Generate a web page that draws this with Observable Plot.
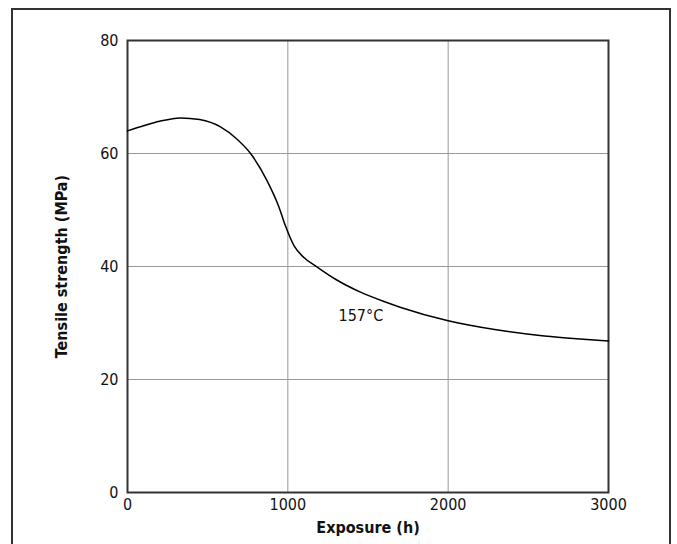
<!DOCTYPE html>
<html>
<head>
<meta charset="utf-8">
<script src="https://cdn.jsdelivr.net/npm/d3@7"></script>
<script src="https://cdn.jsdelivr.net/npm/@observablehq/plot@0.6"></script>
<style>
  html, body { margin: 0; padding: 0; background: #fff; }
  #wrap { position: relative; width: 677px; height: 544px; overflow: hidden; }
  #border { position: absolute; left: 11px; top: 8px; width: 660px; height: 560px;
            border: 2px solid #333; box-sizing: border-box; pointer-events: none; }
</style>
</head>
<body>
<div id="wrap"><div id="border"></div></div>
<script>
const exposureHours = [0, 100, 200, 330, 450, 580, 680, 770, 870, 945, 985, 1040, 1100, 1183, 1300, 1450, 1600, 1700, 2000, 2300, 2600, 2800, 3000];
const tensileMPa   = [64.0, 64.9, 65.7, 66.3, 66.0, 64.7, 62.6, 59.9, 55.2, 50.5, 47.2, 43.6, 41.6, 39.9, 37.7, 35.5, 33.8, 32.8, 30.4, 28.8, 27.7, 27.2, 26.8];
const xTicks = [0, 1000, 2000, 3000];
const yTicks = [0, 20, 40, 60, 80];
const curveLabel = [{x: 1316, y: 31.2, text: "157°C"}];

const data = exposureHours.map((x, i) => ({x, y: tensileMPa[i]}));

const chart = Plot.plot({
  width: 677,
  height: 544,
  marginLeft: 127,
  marginRight: 69,
  marginTop: 40,
  marginBottom: 52,
  style: {fontFamily: "'Liberation Sans Narrow', 'DejaVu Sans Condensed', sans-serif", fontSize: "16px", color: "#111", background: "transparent"},
  x: {domain: [0, 3000]},
  y: {domain: [0, 80]},
  marks: [
    Plot.gridX([1000, 2000], {stroke: "#999", strokeOpacity: 1}),
    Plot.gridY([20, 40, 60], {stroke: "#999", strokeOpacity: 1}),
    Plot.axisX(xTicks, {tickSize: 0, tickPadding: 6, tickFormat: d3.format("d"), label: "Exposure (h)", labelAnchor: "center", labelArrow: "none", labelOffset: 40}),
    Plot.axisY(yTicks, {tickSize: 0, tickPadding: 9, tickFormat: d3.format("d"), label: "Tensile strength (MPa)", labelAnchor: "center", labelArrow: "none", labelOffset: 72}),
    Plot.frame({stroke: "#333", strokeWidth: 2}),
    Plot.line(data, {x: "x", y: "y", curve: "monotone-x", stroke: "#000", strokeWidth: 1.5}),
    Plot.text(curveLabel, {x: "x", y: "y", text: "text", textAnchor: "start", fontSize: 16})
  ]
});
document.getElementById("wrap").prepend(chart);
chart.querySelectorAll("g[aria-label='x-axis label'] text, g[aria-label='y-axis label'] text").forEach(t => t.setAttribute("font-weight", "bold"));
</script>
</body>
</html>
